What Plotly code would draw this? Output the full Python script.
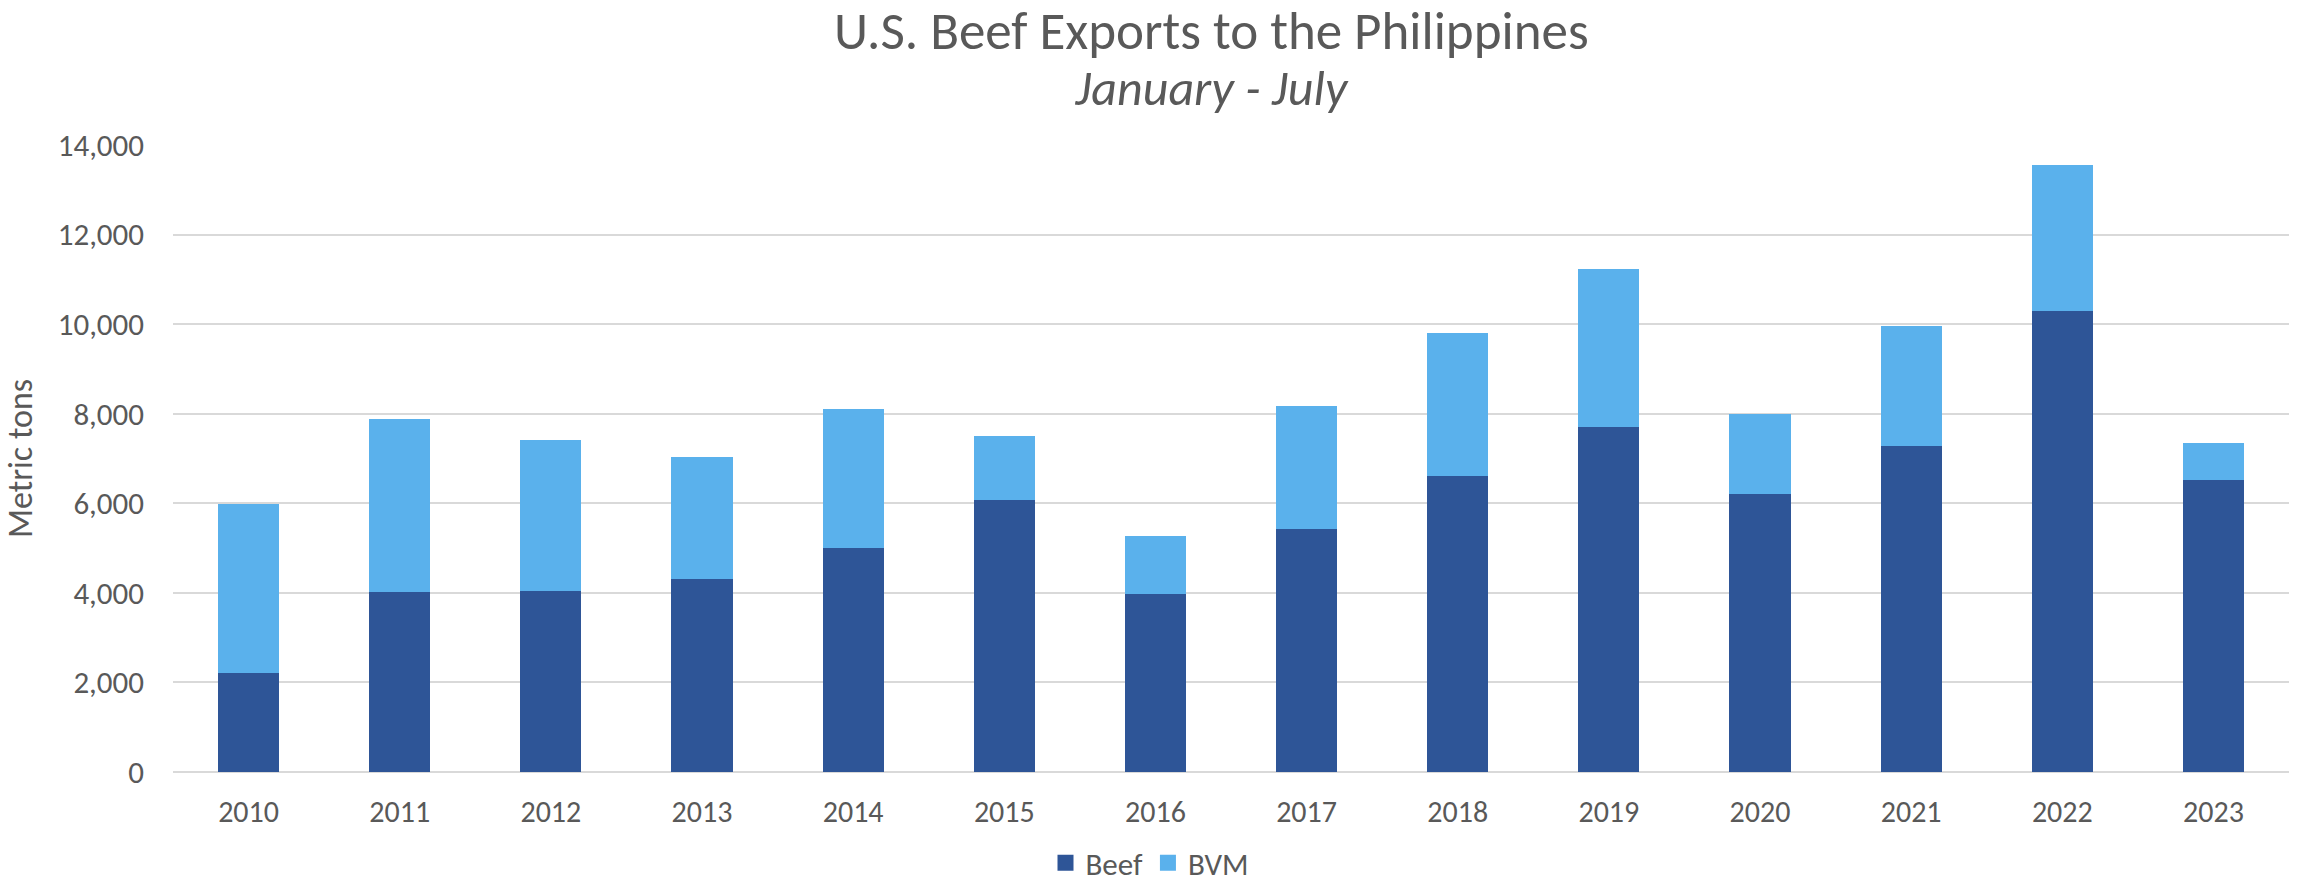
import plotly.graph_objects as go

# January - July shipments, metric tons
years = ["2010", "2011", "2012", "2013", "2014", "2015", "2016",
         "2017", "2018", "2019", "2020", "2021", "2022", "2023"]
beef = [2220, 4030, 4045, 4300, 5010, 6070, 3965,
        5430, 6610, 7710, 6215, 7285, 10295, 6525]
bvm = [3770, 3850, 3370, 2725, 3085, 1425, 1305,
       2750, 3200, 3525, 1770, 2665, 3250, 815]

BEEF_COLOR = "#2E5597"
BVM_COLOR = "#5AB1EC"
TEXT_COLOR = "#595959"
GRID_COLOR = "#D9D9D9"
FONT = "Calibri, Carlito, Lato, sans-serif"

W, H = 2300, 891
L, R, T, B = 173, 11, 145, 119
plot_w = W - L - R
plot_h = H - T - B


def px_x(x):
    return (x - L) / plot_w


def px_y(y):
    return (H - B - y) / plot_h


fig = go.Figure()
fig.add_trace(go.Bar(x=years, y=beef, name="Beef", marker_color=BEEF_COLOR,
                     marker_line_width=0, showlegend=False))
fig.add_trace(go.Bar(x=years, y=bvm, name="BVM", marker_color=BVM_COLOR,
                     marker_line_width=0, showlegend=False))

# legend entries with larger square swatches
for name, color in (("Beef", BEEF_COLOR), ("BVM", BVM_COLOR)):
    fig.add_trace(go.Scatter(x=[None], y=[None], mode="markers", name=name,
                             marker=dict(symbol="square", size=18, color=color)))

title_text = (
    "<span style='font-size:53px'>U.S. Beef Exports to the Philippines</span>"
    "<br><span style='font-size:50px'><i>January - July</i></span>"
)

fig.update_layout(
    width=W, height=H,
    margin=dict(l=L, r=R, t=T, b=B, pad=0, autoexpand=False),
    barmode="stack",
    bargap=0.596,
    plot_bgcolor="white",
    paper_bgcolor="white",
    font=dict(family=FONT, color=TEXT_COLOR, size=30),
    legend=dict(orientation="h", x=px_x(1150), xanchor="center",
                y=px_y(890), yanchor="bottom",
                traceorder="normal", itemwidth=30,
                font=dict(size=31, color=TEXT_COLOR)),
    xaxis=dict(type="category", showgrid=False, showline=False, ticks="",
               automargin=False, ticklabelstandoff=19,
               tickfont=dict(size=30, color=TEXT_COLOR)),
    yaxis=dict(range=[0, 14000], dtick=2000, tickformat=",",
               showgrid=True, gridcolor=GRID_COLOR, gridwidth=1.5,
               zeroline=True, zerolinecolor=GRID_COLOR, zerolinewidth=1.5,
               showline=False, ticks="", ticklabelstandoff=28,
               automargin=False,
               tickfont=dict(size=31, color=TEXT_COLOR),
               title=dict(text="Metric tons", standoff=16,
                          font=dict(size=34, color=TEXT_COLOR))),
    annotations=[
        dict(text=title_text,
             xref="paper", yref="paper", x=px_x(1211), y=px_y(58),
             xanchor="center", yanchor="middle", showarrow=False,
             font=dict(size=43, color=TEXT_COLOR, family=FONT)),
    ],
)

fig.write_html("out.html")
